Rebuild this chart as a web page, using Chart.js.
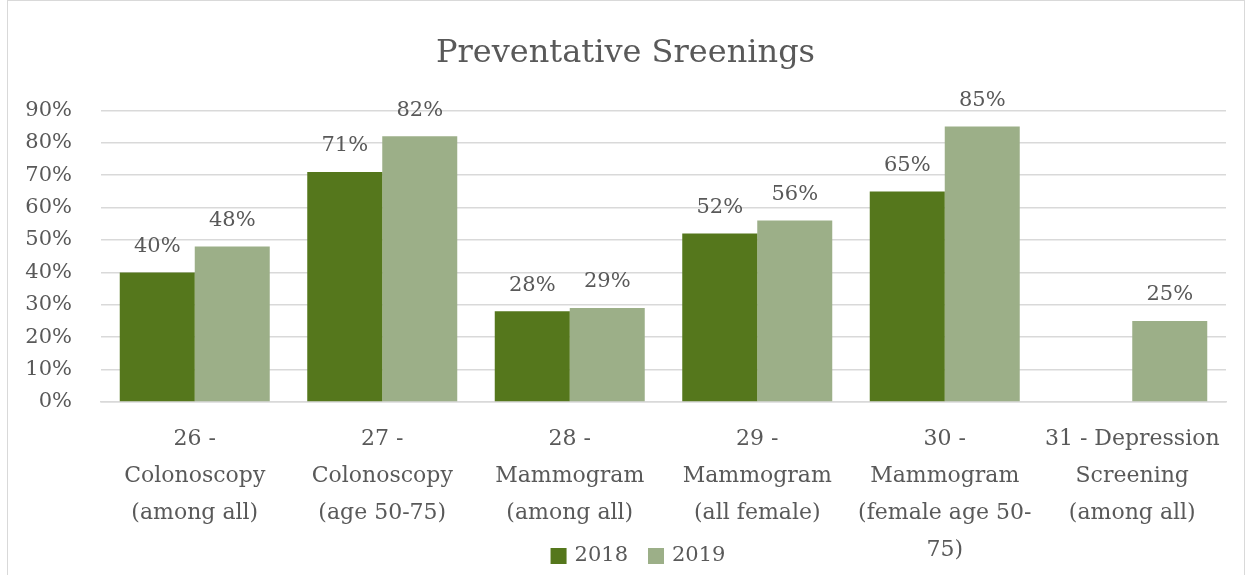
<!DOCTYPE html>
<html>
<head>
<meta charset="utf-8">
<script src="https://cdn.jsdelivr.net/npm/chart.js@4.4.1/dist/chart.umd.min.js"></script>
<style>
  html, body { margin: 0; padding: 0; background: #fff; }
  #wrap {
    position: absolute; left: 7px; top: 0; width: 1238px; height: 575px;
    border: 1px solid #d9d9d9; border-bottom: none; box-sizing: border-box;
  }
  canvas { display: block; }
</style>
</head>
<body>
<div id="wrap"><canvas id="barChart" width="1236" height="574"></canvas></div>
<script>
// Chart data
const categories = [
  ["26 -", "Colonoscopy", "(among all)"],
  ["27 -", "Colonoscopy", "(age 50-75)"],
  ["28 -", "Mammogram", "(among all)"],
  ["29 -", "Mammogram", "(all female)"],
  ["30 -", "Mammogram", "(female age 50-", "75)"],
  ["31 - Depression", "Screening", "(among all)"],
];
const values2018 = [40, 71, 28, 52, 65, null];
const values2019 = [48, 82, 29, 56, 85, 25];
const yTicks = [0, 10, 20, 30, 40, 50, 60, 70, 80, 90];

const FONT = "'DejaVu Serif', 'Liberation Serif', serif";
const TEXT = "#595959";

/**
 * Draw value labels above each bar
 */
const valueLabels = {
  id: "valueLabels",
  afterDatasetsDraw(chart) {
    const ctx = chart.ctx;
    ctx.save();
    ctx.font = `21px ${FONT}`;
    ctx.fillStyle = TEXT;
    ctx.textAlign = "center";
    ctx.textBaseline = "middle";
    chart.data.datasets.forEach((ds, i) => {
      const meta = chart.getDatasetMeta(i);
      meta.data.forEach((bar, j) => {
        if (ds.data[j] == null) return;
        ctx.fillText(`${ds.data[j]}%`, bar.x, bar.y - 26);
      });
    });
    ctx.restore();
  },
};

/**
 * Legend drawn over the bottom of the x axis area
 * (the built-in one would reserve its own row and clip the 4-line label)
 */
const bottomLegend = {
  id: "bottomLegend",
  afterDraw(chart) {
    const ctx = chart.ctx;
    const box = 16;
    const gap = 8;
    const itemGap = 20;
    ctx.save();
    ctx.font = `21px ${FONT}`;
    ctx.textBaseline = "middle";
    ctx.textAlign = "left";
    const items = chart.data.datasets.map((ds) => ({
      label: ds.label,
      color: ds.backgroundColor,
      w: box + gap + ctx.measureText(ds.label).width,
    }));
    const total = items.reduce((s, it) => s + it.w, 0) + itemGap * (items.length - 1);
    let x = chart.width / 2 + 12 - total / 2;
    const y = chart.height - 19;
    items.forEach((it) => {
      ctx.fillStyle = it.color;
      ctx.fillRect(x, y - box / 2, box, box);
      ctx.fillStyle = TEXT;
      ctx.fillText(it.label, x + box + gap, y);
      x += it.w + itemGap;
    });
    ctx.restore();
  },
};

new Chart(document.getElementById("barChart").getContext("2d"), {
  type: "bar",
  data: {
    labels: categories,
    datasets: [
      {
        label: "2018",
        data: values2018,
        backgroundColor: "#55771c",
        categoryPercentage: 0.8,
        barPercentage: 1.0,
      },
      {
        label: "2019",
        data: values2019,
        backgroundColor: "#9caf88",
        categoryPercentage: 0.8,
        barPercentage: 1.0,
      },
    ],
  },
  options: {
    responsive: false,
    animation: false,
    layout: { padding: { left: 17, right: 18, top: 10, bottom: 0 } },
    plugins: {
      title: {
        display: true,
        text: "Preventative Sreenings",
        color: TEXT,
        font: { family: FONT, size: 32, weight: "normal" },
        padding: { top: 23, bottom: 38 },
      },
      legend: { display: false },
      tooltip: { enabled: false },
    },
    scales: {
      y: {
        min: 0,
        max: 90,
        afterBuildTicks(axis) {
          axis.ticks = yTicks.map((v) => ({ value: v }));
        },
        afterFit(axis) {
          axis.width = 76;
        },
        ticks: {
          color: TEXT,
          font: { family: FONT, size: 21 },
          callback: (v) => `${v}%`,
          autoSkip: false,
          padding: 29,
        },
        grid: { color: "#d9d9d9", lineWidth: 1.5, drawTicks: false },
        border: { display: false },
      },
      x: {
        afterFit(axis) {
          axis.height = 173;
        },
        ticks: {
          color: TEXT,
          font: { family: FONT, size: 22, lineHeight: 1.68 },
          maxRotation: 0,
          autoSkip: false,
          padding: 11,
        },
        grid: { display: false },
        border: { color: "#d9d9d9", width: 1.5 },
      },
    },
  },
  plugins: [valueLabels, bottomLegend],
});
</script>
</body>
</html>
